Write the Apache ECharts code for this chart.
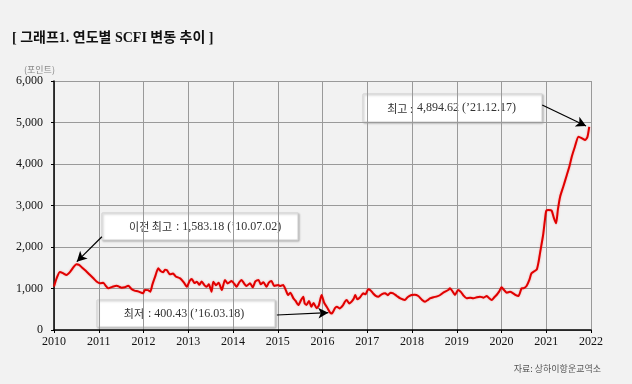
<!DOCTYPE html>
<html><head><meta charset="utf-8">
<script src="https://cdn.jsdelivr.net/npm/echarts@6/dist/echarts.min.js"></script>
<style>html,body{margin:0;padding:0;background:#f2f2f2}#c{width:632px;height:384px}</style>
</head><body><div id="c"></div>
<script>
var titleText = '[ 그래프1. 연도별 SCFI 변동 추이 ]';
var unitText = '(포인트)';
var sourceText = '자료: 상하이항운교역소';
var yTicks = [0, 1000, 2000, 3000, 4000, 5000, 6000];
var xYears = [2010, 2011, 2012, 2013, 2014, 2015, 2016, 2017, 2018, 2019, 2020, 2021, 2022];
var dates = [
2010.00,2010.06,2010.13,2010.20,2010.28,2010.36,2010.44,2010.50,2010.56,2010.63,2010.73,2010.80,2010.88,2010.95,
2011.03,2011.10,2011.16,2011.21,2011.30,2011.40,2011.46,2011.51,2011.58,2011.66,2011.73,2011.80,2011.88,2011.99,
2012.03,2012.10,2012.15,2012.20,2012.26,2012.33,2012.38,2012.44,2012.48,2012.52,2012.59,2012.66,2012.72,2012.82,2012.90,2012.97,
2013.03,2013.08,2013.14,2013.19,2013.25,2013.30,2013.36,2013.41,2013.46,2013.52,2013.56,2013.62,2013.68,2013.75,2013.82,2013.88,2013.97,
2014.03,2014.08,2014.14,2014.19,2014.25,2014.30,2014.38,2014.44,2014.50,2014.57,2014.62,2014.68,2014.75,2014.80,2014.86,2014.92,
2015.01,2015.06,2015.12,2015.18,2015.23,2015.28,2015.35,2015.40,2015.46,2015.52,2015.57,2015.60,2015.64,2015.70,2015.75,2015.80,2015.87,2015.92,2015.98,
2016.04,2016.10,2016.17,2016.21,2016.28,2016.32,2016.38,2016.46,2016.50,2016.54,2016.60,2016.65,2016.70,2016.73,2016.78,2016.84,2016.91,2016.96,
2017.02,2017.07,2017.13,2017.19,2017.25,2017.32,2017.40,2017.46,2017.52,2017.58,2017.66,2017.74,2017.84,2017.90,2017.99,
2018.06,2018.14,2018.22,2018.29,2018.35,2018.40,2018.48,2018.56,2018.63,2018.70,2018.81,2018.85,2018.90,2018.96,
2019.03,2019.09,2019.15,2019.22,2019.30,2019.37,2019.45,2019.52,2019.60,2019.67,2019.73,2019.78,2019.84,2019.89,2019.95,
2020.00,2020.06,2020.12,2020.19,2020.26,2020.32,2020.38,2020.45,2020.50,2020.56,2020.62,2020.67,2020.74,2020.79,2020.83,2020.86,2020.93,2020.97,
2021.00,2021.05,2021.12,2021.17,2021.22,2021.26,2021.31,2021.38,2021.46,2021.52,2021.57,2021.64,2021.72,2021.80,2021.87,2021.92,2021.96];
var scfi = [
1050,1250,1400,1370,1325,1400,1520,1583,1570,1500,1405,1330,1245,1170,
1125,1140,1060,1005,1040,1068,1040,1020,1030,1068,990,950,930,884,
964,960,924,1100,1285,1486,1420,1390,1450,1446,1342,1360,1290,1245,1150,1043,
1180,1229,1130,1164,1090,1170,1080,1043,1100,924,1164,1080,1140,964,1205,1120,1180,
1110,1043,1150,1205,1120,1060,1125,1030,1170,1205,1100,1150,1043,1140,1180,1060,
1084,1060,1084,960,843,900,763,700,602,720,803,650,602,700,562,650,522,600,843,
650,550,420,400,530,562,520,602,680,723,640,683,760,843,740,788,884,860,
980,960,884,820,803,860,884,840,900,884,820,760,723,790,843,
850,820,730,683,720,763,790,810,843,900,964,1005,940,843,
964,920,830,763,780,763,790,803,780,820,760,723,790,843,930,
1028,960,900,920,884,840,820,1005,1010,1060,1200,1366,1420,1462,1650,1848,2289,2650,
2870,2890,2875,2700,2570,2900,3212,3453,3735,3950,4176,4417,4658,4619,4578,4650,4895];
var notes = [
  {kor: '이전 최고', num: ': 1,583.18 (’10.07.02)', from: [2011.07, 2248], to: [2010.51, 1646]},
  {kor: '최저', num: ': 400.43 (’16.03.18)', from: [2014.98, 361], to: [2016.13, 417]},
  {kor: '최고 :', num: '4,894.62 (’21.12.17)', from: [2020.91, 5422], to: [2021.89, 4916]}
];

var serif = "'Liberation Serif','DejaVu Serif',serif";
var kfont = "'Noto Sans CJK KR',sans-serif";
var chart = echarts.init(document.getElementById('c'));
var seriesData = dates.map(function (d, i) { return [d, scfi[i]]; });

function box(x, y, w, h, note, splitX) {
  var cy = y + h / 2;
  return {
    type: 'group', z: 100, children: [
      {type: 'rect', shape: {x: x, y: y, width: w, height: h},
       style: {fill: '#ffffff', stroke: '#d2d2d2', lineWidth: 1, shadowBlur: 2, shadowColor: 'rgba(0,0,0,0.25)', shadowOffsetX: 1, shadowOffsetY: 1}},
      {type: 'text', style: {x: splitX, y: cy + 0.5, text: note.kor, align: 'right', verticalAlign: 'middle',
        font: "11px " + kfont, fill: '#333'}},
      {type: 'text', style: {x: splitX + 4, y: cy, text: note.num, align: 'left', verticalAlign: 'middle',
        font: "12px " + serif, fill: '#333'}}
    ]
  };
}

chart.setOption({
  backgroundColor: '#f2f2f2',
  animation: false,
  grid: {left: 54, right: 41, top: 81, bottom: 54},
  xAxis: {
    type: 'value', min: 2010, max: 2022, interval: 1,
    axisLine: {show: true, lineStyle: {color: '#000', width: 1.5}},
    axisTick: {show: true, length: 3, lineStyle: {color: '#000'}},
    axisLabel: {color: '#111', fontFamily: serif, fontSize: 12, margin: 6,
      formatter: function (v) { return String(v); }},
    splitLine: {show: true, lineStyle: {color: '#9a9a9a', width: 1}}
  },
  yAxis: {
    type: 'value', min: 0, max: 6000, interval: 1000,
    axisLine: {show: true, lineStyle: {color: '#000', width: 1.5}},
    axisTick: {show: true, length: 3, lineStyle: {color: '#000'}},
    axisLabel: {color: '#111', fontFamily: serif, fontSize: 12, margin: 11,
      formatter: function (v) { return v.toLocaleString('en-US'); }},
    splitLine: {show: true, lineStyle: {color: '#9a9a9a', width: 1}}
  },
  series: [{
    type: 'line', data: seriesData, showSymbol: false, smooth: 0.2,
    lineStyle: {color: '#e00000', width: 2, shadowColor: 'rgba(255,0,0,0.35)', shadowBlur: 2},
    markLine: {
      silent: true, symbol: ['none', 'arrow'], symbolSize: [8, 10],
      lineStyle: {color: '#000', width: 1.2, type: 'solid'},
      label: {show: false},
      data: notes.map(function (n) { return [{coord: n.from}, {coord: n.to}]; })
    }
  }],
  graphic: [
    {type: 'text', left: 12, top: 31, style: {text: titleText, font: "bold 14px 'Liberation Serif','Noto Sans CJK KR',serif", fill: '#111'}},
    {type: 'text', left: 24, top: 65, style: {text: unitText, font: "9px " + kfont, fill: '#8a8a8a'}},
    {type: 'text', right: 31, top: 364, style: {text: sourceText, font: "9px " + kfont, fill: '#555'}},
    box(102, 213, 196, 27, notes[0], 172),
    box(97, 300, 178, 27, notes[1], 144),
    box(363, 94, 179, 28, notes[2], 413)
  ]
});
</script></body></html>
